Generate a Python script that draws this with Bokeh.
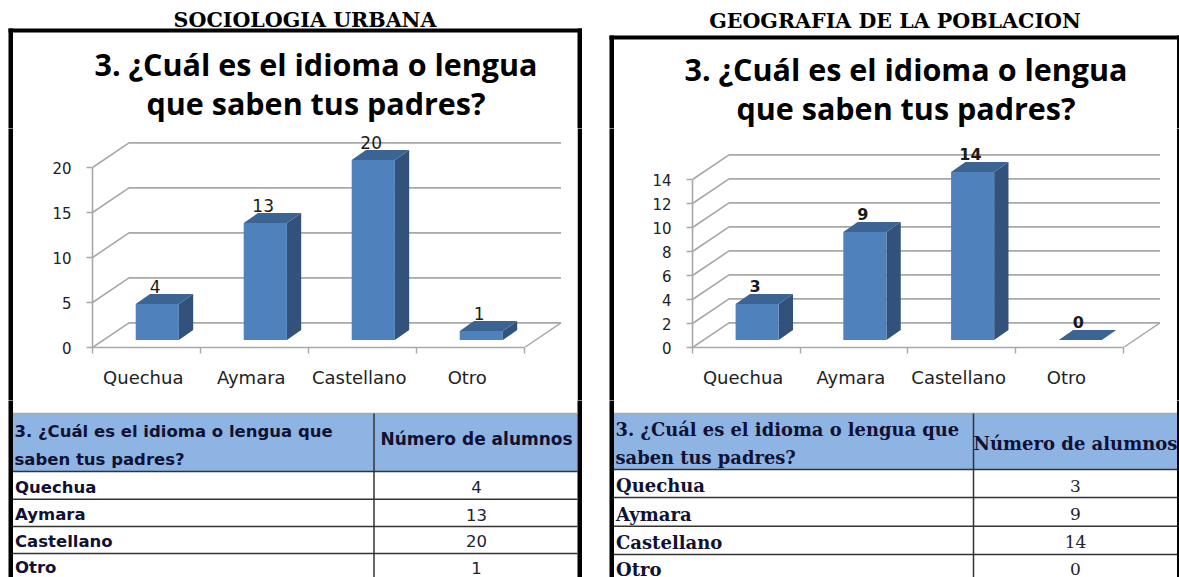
import math
from bokeh.embed import file_html
from bokeh.resources import INLINE
from bokeh.plotting import figure
from bokeh.layouts import row, column
from bokeh.models import Range1d, LinearAxis, FixedTicker
from bokeh.core.properties import value

categories = ["Quechua", "Aymara", "Castellano", "Otro"]
left_values = [4, 13, 20, 1]
right_values = [3, 9, 14, 0]
left_ticks = [0, 5, 10, 15, 20]
right_ticks = [0, 2, 4, 6, 8, 10, 12, 14]
left_heading = "SOCIOLOGIA URBANA"
right_heading = "GEOGRAFIA DE LA POBLACION"
title_lines = ["3. ¿Cuál es el idioma o lengua", "que saben tus padres?"]
table_head = ["3. ¿Cuál es el idioma o lengua que", "saben tus padres?"]
table_col = "Número de alumnos"

FRONT, SIDE, TOP = "#4F81BD", "#32527C", "#3B6492"
GRID = "#A8A8A8"
HEAD = "#8DB4E2"
TOP_H = 128
CHART_BOTTOM = 400
PAGE_H = 577


def blank(w, h, x0, y0):
    p = figure(width=w, height=h, output_backend="svg", toolbar_location=None,
               x_range=Range1d(x0, x0 + w), y_range=Range1d(y0 + h, y0),
               x_axis_type=None, y_axis_type=None, min_border=0)
    p.frame_align = False
    p.grid.visible = False
    p.outline_line_color = None
    p.background_fill_color = "white"
    p.border_fill_color = "white"
    return p


def txt(p, x, y, s, font, size, style="normal", align="left", color="#000000"):
    # y is the text's baseline on the page; the glyph is anchored on its middle
    p.text([x], [y - 0.36 * size], text=[s], text_font=value(font), text_font_size=f"{size}px",
           text_font_style=style, text_align=align, text_baseline="middle",
           text_color=color)


def panel(cfg):
    x0, w = cfg["x0"], cfg["w"]
    bl, br, bt = cfg["border_l"], cfg["border_r"], cfg["border_t"]
    lw, rw = 4.5, cfg["right_w"]
    # --- heading and title
    t = blank(w, TOP_H, x0, 0)
    txt(t, cfg["head_x"], cfg["head_y"], cfg["heading"], "DejaVu Serif", cfg["head_size"], "bold", "center")
    t.quad(left=[bl], right=[br + rw], top=[bt], bottom=[bt + 4], color="black", line_width=0)
    t.quad(left=[bl], right=[bl + lw], top=[bt], bottom=[TOP_H + 1], color="black", line_width=0)
    t.quad(left=[br], right=[br + rw], top=[bt], bottom=[TOP_H + 1], color="black", line_width=0)
    for ln, yy in zip(title_lines, cfg["title_y"]):
        txt(t, cfg["title_x"], yy, ln, "Open Sans", 30.5, "bold", "center")

    # --- chart between two stubs that carry the frame's bars
    ax, cw = cfg["axis_x"], cfg["cat_w"]
    pxu = cfg["px_per_unit"]
    vals, ticks = cfg["values"], cfg["ticks"]
    frame_right = ax + cw * 4 + 38
    ls = int(math.ceil(bl + lw))          # page x where the chart figure starts
    rs = int(math.floor(br))              # page x where it ends
    chart_h = CHART_BOTTOM - TOP_H

    sl = blank(ls - x0, chart_h, x0, TOP_H)
    sl.quad(left=[bl], right=[bl + lw], top=[TOP_H - 1], bottom=[CHART_BOTTOM + 1], color="black", line_width=0)
    sr = blank(x0 + w - rs, chart_h, rs, TOP_H)
    sr.quad(left=[br], right=[br + rw], top=[TOP_H - 1], bottom=[CHART_BOTTOM + 1], color="black", line_width=0)

    c = figure(width=rs - ls, height=chart_h, output_backend="svg", toolbar_location=None,
               x_range=Range1d(0, (frame_right - ax) / cw),
               y_range=Range1d(0, (347 - TOP_H) / pxu),
               x_axis_type=None, y_axis_type=None,
               min_border_left=int(round(ax - ls)), min_border_right=int(round(rs - frame_right)),
               min_border_top=0, min_border_bottom=53)
    c.frame_align = False
    c.grid.visible = False
    c.outline_line_color = None
    wall_dx, wall_dy = 36.5 / cw, 24.6 / pxu
    for v in ticks:
        c.line([0, wall_dx, 4 + wall_dx], [v, v + wall_dy, v + wall_dy], line_color=GRID, line_width=1.6)
    c.line([4, 4 + wall_dx], [0, wall_dy], line_color=GRID, line_width=1.4)

    base = 7.5 / pxu
    bdx, bdy = 14.3 / cw, 10 / pxu
    centers = [i + 0.6 for i in range(len(categories))]
    hw = 0.2
    for xc, v in zip(centers, vals):
        l, r, b, tp = xc - hw, xc + hw, base, base + v
        c.patch([r, r + bdx, r + bdx, r], [b, b + bdy, tp + bdy, tp], color=SIDE, line_width=0)
        c.patch([l, l + bdx, r + bdx, r], [tp, tp + bdy, tp + bdy, tp], color=TOP, line_width=0)
    c.vbar(x=centers, width=2 * hw, bottom=base, top=[base + v for v in vals], color=FRONT, line_width=0)
    c.text([xc - 0.02 for xc in centers], [v + base + bdy + 8 / pxu for v in vals],
           text=[str(v) for v in vals], text_font=value(cfg["label_font"]),
           text_font_size=cfg["label_size"], text_font_style=cfg["label_style"],
           text_align="center", text_baseline="middle", text_color="#1a1a1a")

    ya = LinearAxis(ticker=FixedTicker(ticks=ticks), bounds=(0, ticks[-1]))
    ya.axis_line_color = GRID
    ya.axis_line_width = 1.6
    ya.major_tick_line_color = GRID
    ya.major_tick_line_width = 1.4
    ya.major_tick_out = 6
    ya.major_tick_in = 0
    ya.minor_tick_line_color = None
    ya.major_label_standoff = 15
    ya.major_label_text_font = "DejaVu Sans"
    ya.major_label_text_font_size = "15px"
    ya.major_label_text_color = "#222222"
    c.add_layout(ya, "left")

    xa = LinearAxis(ticker=FixedTicker(ticks=[i + 0.47 for i in range(4)], minor_ticks=[0, 1, 2, 3, 4]),
                    bounds=(0, 4))
    xa.major_label_overrides = {i + 0.47: s for i, s in enumerate(categories)}
    xa.axis_line_color = GRID
    xa.axis_line_width = 1.6
    xa.major_tick_line_color = None
    xa.major_tick_out = 0
    xa.major_tick_in = 0
    xa.minor_tick_line_color = GRID
    xa.minor_tick_line_width = 1.4
    xa.minor_tick_out = 6
    xa.minor_tick_in = 0
    xa.major_label_standoff = 13
    xa.major_label_text_font = "DejaVu Sans"
    xa.major_label_text_font_size = "18px"
    xa.major_label_text_color = "#222222"
    c.add_layout(xa, "below")

    # --- table
    g = blank(w, PAGE_H - CHART_BOTTOM, x0, CHART_BOTTOM)
    tl, tr, dv = bl + lw, br, cfg["div_x"]
    g.quad(left=[tl], right=[tr], top=[413], bottom=[cfg["head_bot"]], fill_color=HEAD, line_width=0)
    g.quad(left=[bl], right=[bl + lw], top=[CHART_BOTTOM - 1], bottom=[PAGE_H], color="black", line_width=0)
    g.quad(left=[br], right=[br + rw], top=[CHART_BOTTOM - 1], bottom=[PAGE_H], color="black", line_width=0)
    g.segment(x0=[tl] * 4, x1=[tr] * 4, y0=cfg["rules"], y1=cfg["rules"], line_color="#333333", line_width=1.5)
    g.segment(x0=[tl], x1=[tr], y0=[413], y1=[413], line_color="#AAAAAA", line_width=1.5)
    g.segment(x0=[dv], x1=[dv], y0=[413], y1=[PAGE_H], line_color="#333333", line_width=1.5)
    f, fs = cfg["tfont"], cfg["tsize"]
    for ln, yy in zip(table_head, cfg["head_y_txt"]):
        txt(g, tl + 1.5, yy, ln, f, cfg["thead_size"], "bold", color="#111133")
    txt(g, cfg["col_x"], cfg["col_y"], table_col, f, cfg["tcol_size"], "bold", "center", color="#111133")
    for s, v, yy in zip(categories, vals, cfg["row_y"]):
        txt(g, tl + 2, yy, s, f, fs, "bold", color="#111133")
        txt(g, cfg["col_x"], yy, str(v), f, cfg["tval_size"], "normal", "center", color="#222233")
    return column(t, row(sl, c, sr, spacing=0), g, spacing=0)


left = panel(dict(
    x0=0, w=595, border_l=8, border_r=577, right_w=4.5, border_t=28,
    heading=left_heading, head_x=304.5, head_y=26.7, head_size=20.6,
    title_x=315.5, title_y=[74, 113],
    axis_x=92.3, cat_w=108, px_per_unit=9, values=left_values, ticks=left_ticks,
    label_font="DejaVu Sans", label_style="normal", label_size="17px",
    div_x=373.5, head_bot=471, rules=[471, 498.7, 526, 553],
    tfont="DejaVu Sans", tsize=16.5, thead_size=16.5, tcol_size=17, tval_size=16.5,
    head_y_txt=[437, 465], col_x=476, col_y=445, row_y=[492.7, 520, 546.7, 573],
))
right = panel(dict(
    x0=595, w=584, border_l=609, border_r=1176.5, right_w=2.5, border_t=35,
    heading=right_heading, head_x=894.5, head_y=28, head_size=20.6,
    title_x=905.5, title_y=[79, 118],
    axis_x=692.3, cat_w=107.6, px_per_unit=12, values=right_values, ticks=right_ticks,
    label_font="DejaVu Sans", label_style="bold", label_size="16px",
    div_x=973, head_bot=469, rules=[469, 497, 525.7, 554],
    tfont="DejaVu Serif", tsize=18, thead_size=17.9, tcol_size=18, tval_size=17,
    head_y_txt=[435, 463], col_x=1075, col_y=449, row_y=[491.7, 520, 548, 575],
))

root = row(left, right, spacing=0)
open("out.html", "w").write(file_html(root, INLINE))
